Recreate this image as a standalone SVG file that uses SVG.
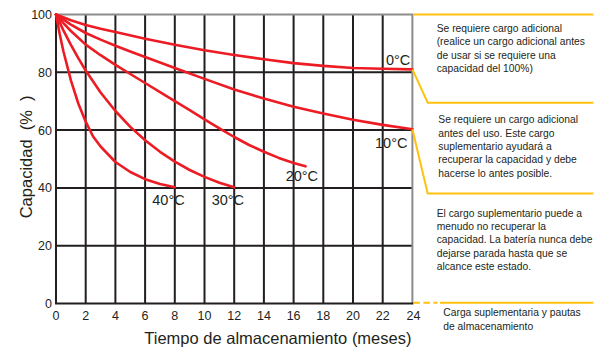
<svg xmlns="http://www.w3.org/2000/svg" width="600" height="348" viewBox="0 0 600 348">
<style>
.grid{stroke:#231f20;stroke-width:2;fill:none}
.frame{stroke:#8c8c8c;stroke-width:2;fill:none}
.curve{stroke:#ed1c24;stroke-width:2.6;fill:none;stroke-linejoin:round;stroke-linecap:round}
.lead{stroke:#ffc20e;stroke-width:2;fill:none}
.tick{font-family:"Liberation Sans",Arial,sans-serif;font-size:12.5px;fill:#231f20}
.temp{font-family:"Liberation Sans",Arial,sans-serif;font-size:14.5px;fill:#231f20}
.title{font-family:"Liberation Sans",Arial,sans-serif;font-size:16.5px;fill:#231f20}
.note{font-family:"Liberation Sans",Arial,sans-serif;font-size:10.3px;fill:#231f20}
</style>
<rect width="600" height="348" fill="#ffffff"/>
<g id="grid">
<path class="grid" d="M85.7 14.5V303.5M115.4 14.5V303.5M145.1 14.5V303.5M174.8 14.5V303.5M204.5 14.5V303.5M234.2 14.5V303.5M263.9 14.5V303.5M293.6 14.5V303.5M323.3 14.5V303.5M353 14.5V303.5M382.7 14.5V303.5"/>
<path class="grid" d="M56 72.3H412.4M56 130.1H412.4M56 187.9H412.4M56 245.7H412.4"/>
<path class="frame" d="M56 14.5H412.4V303.5"/>
<path class="grid" d="M56 13.5V303.5H413.4"/>
</g>
<g id="y-ticks" class="tick" text-anchor="end">
<text x="52" y="18.9">100</text>
<text x="52" y="76.7">80</text>
<text x="52" y="134.5">60</text>
<text x="52" y="192.3">40</text>
<text x="52" y="250.1">20</text>
<text x="52" y="307.9">0</text>
</g>
<g id="x-ticks" class="tick" text-anchor="middle">
<text x="56" y="320">0</text>
<text x="85.7" y="320">2</text>
<text x="115.4" y="320">4</text>
<text x="145.1" y="320">6</text>
<text x="174.8" y="320">8</text>
<text x="204.5" y="320">10</text>
<text x="234.2" y="320">12</text>
<text x="263.9" y="320">14</text>
<text x="293.6" y="320">16</text>
<text x="323.3" y="320">18</text>
<text x="353" y="320">20</text>
<text x="382.7" y="320">22</text>
<text x="413.4" y="320">24</text>
</g>
<g id="axis-titles" class="title">
<text x="144.3" y="344">Tiempo de almacenamiento (meses)</text>
<text transform="translate(31.7 218.3) rotate(-90)" xml:space="preserve">Capacidad  (%  )</text>
</g>
<g id="curves">
<polyline id="c0" class="curve" points="56,14.5 70.9,20.3 85.7,24.9 100.6,28.7 115.4,32.1 145.1,38.8 174.8,44.8 204.5,50.3 234.2,55 263.9,59.3 293.6,63.1 323.3,65.9 353,68 382.7,68.8 412.4,69.4"/>
<polyline id="c10" class="curve" points="56,14.5 70.9,24.6 85.7,33 100.6,39.6 115.4,45.7 130.3,51.5 145.1,57 160,62.5 174.8,68 204.5,78.9 234.2,89.4 263.9,98.6 293.6,106.7 323.3,113.6 353,119.7 382.7,124.9 412.4,129.2"/>
<polyline id="c20" class="curve" points="56,14.5 63.4,23.2 70.9,31 85.7,44.6 100.6,55.2 115.4,64.8 130.3,74 145.1,83 160,92.2 174.8,101.2 189.7,110.2 204.5,119.4 219.4,128.4 234.2,137 249.1,145 263.9,151.8 278.8,157.9 293.6,163 305.5,166.3"/>
<polyline id="c30" class="curve" points="56,14.5 63.4,30.4 70.9,44.8 78.3,58.1 85.7,70.6 100.6,92.5 115.4,111 130.3,126.9 145.1,140.2 160,151.8 174.8,161.6 189.7,170 204.5,176.9 219.4,182.7 234.2,187.3"/>
<polyline id="c40" class="curve" points="56,14.5 59.7,33.9 63.4,51.2 70.9,80.4 78.3,103.5 85.7,121.7 93.1,136.5 100.6,146.5 115.4,162 130.3,172 145.1,179.2 160,184.1 174.8,187.3"/>
</g>
<g id="temp-labels" class="temp">
<text x="386" y="64.5">0°C</text>
<text x="375" y="148">10°C</text>
<text x="285.7" y="181.2">20°C</text>
<text x="152.3" y="204.5">40°C</text>
<text x="211.7" y="204.5">30°C</text>
</g>
<g id="connectors">
<path class="lead" d="M413.4 14.5H593.3"/>
<path class="lead" d="M412.4 69.4L427.7 102.7H593.3"/>
<path class="lead" d="M412.4 129.2L427.7 193.5H593.3"/>
<path class="lead" d="M413.4 302.7H437.5" stroke-dasharray="6.5 3.5"/>
<path class="lead" d="M440 302.7H593.3"/>
</g>
<g id="note1" class="note">
<text x="436.7" y="32">Se requiere cargo adicional</text>
<text x="436.7" y="45.3">(realice un cargo adicional antes</text>
<text x="436.7" y="58.6">de usar si se requiere una</text>
<text x="436.7" y="71.9">capacidad del 100%)</text>
</g>
<g id="note2" class="note">
<text x="438.3" y="123.3">Se requiere un cargo adicional</text>
<text x="438.3" y="136.6">antes del uso. Este cargo</text>
<text x="438.3" y="149.9">suplementario ayudará a</text>
<text x="438.3" y="163.2">recuperar la capacidad y debe</text>
<text x="438.3" y="176.5">hacerse lo antes posible.</text>
</g>
<g id="note3" class="note">
<text x="436.7" y="216.6">El cargo suplementario puede a</text>
<text x="436.7" y="230">menudo no recuperar la</text>
<text x="436.7" y="243.3">capacidad. La batería nunca debe</text>
<text x="436.7" y="256.6">dejarse parada hasta que se</text>
<text x="436.7" y="270">alcance este estado.</text>
</g>
<g id="note4" class="note">
<text x="443.3" y="316">Carga suplementaria y pautas</text>
<text x="443.3" y="330">de almacenamiento</text>
</g>
</svg>
